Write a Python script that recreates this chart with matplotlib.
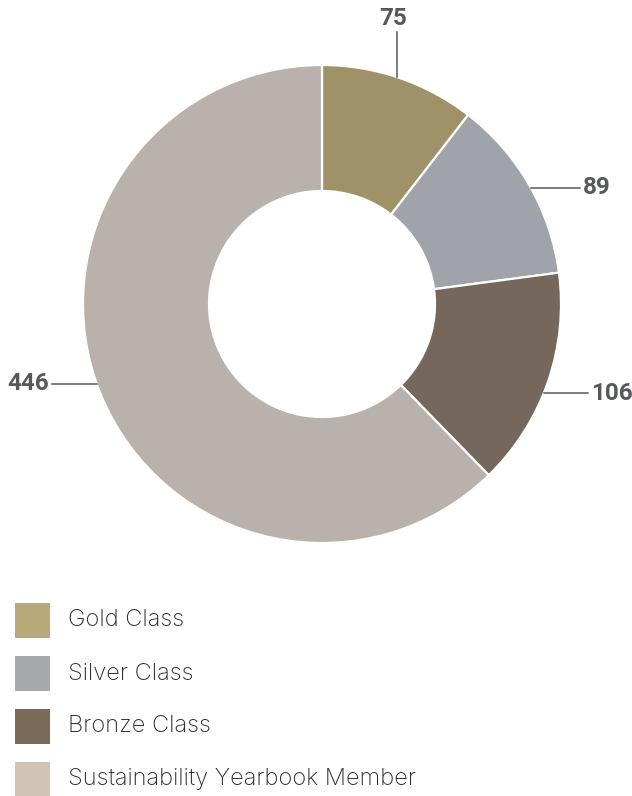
import matplotlib.pyplot as plt
from matplotlib.patches import Rectangle
import numpy as np

categories = ["Gold Class", "Silver Class", "Bronze Class", "Sustainability Yearbook Member"]
values = [75, 89, 106, 446]
slice_colors = ["#A09268", "#A0A3AA", "#75675C", "#B8B1AC"]
legend_colors = ["#B8A97A", "#A8A9AD", "#7A6A58", "#D1C4B5"]

W, H = 632, 796
cx, cy, r_out, ring = 322, 304, 239, 126  # pixel layout, y measured from top
label_color = "#56585B"

fig = plt.figure(figsize=(W / 100, H / 100), dpi=100)
ax = fig.add_axes([0, 0, 1, 1])
ax.pie(values, colors=slice_colors, radius=r_out, center=(cx, H - cy),
       startangle=90, counterclock=False,
       wedgeprops=dict(width=ring, edgecolor="white", linewidth=1.6))
ax.set_xlim(0, W)
ax.set_ylim(0, H)
ax.set_aspect("equal")
ax.axis("off")

# label placement: (kind, label y or x in px, text end)
label_layout = [("up", 32, 393), ("right", 188, 580), ("right", 393, 588), ("left", 384, 52)]
for v, (kind, pos, end) in zip(values, label_layout):
    if kind == "up":
        # start point on the outer edge at the same x as the line
        x0 = end + 4
        y0 = cy - np.sqrt(r_out ** 2 - (x0 - cx) ** 2)
        ax.plot([x0, x0], [H - y0, H - pos], color=label_color, lw=1.1)
        ax.text(end, H - pos + 2, str(v), ha="center", va="bottom", fontsize=17.5,
                fontweight="bold", family="Roboto", color=label_color)
    else:
        dx = np.sqrt(r_out ** 2 - (pos - cy) ** 2)
        x0 = cx + dx if kind == "right" else cx - dx
        ax.plot([x0, end], [H - pos, H - pos], color=label_color, lw=1.1)
        ha = "left" if kind == "right" else "right"
        off = 3 if kind == "right" else -3
        ax.text(end + off, H - pos, str(v), ha=ha, va="center", fontsize=17.5,
                fontweight="bold", family="Roboto", color=label_color)

# legend drawn by hand
for i, (name, col) in enumerate(zip(categories, legend_colors)):
    top = 603 + i * 53
    ax.add_patch(Rectangle((15, H - top - 35), 35, 35, color=col, lw=0))
    ax.text(68, H - top - 17.5, name, ha="left", va="center", fontsize=17,
            family="Inter", fontweight="light", color="#2E2E2E")

fig.savefig("out.png", dpi=100)
